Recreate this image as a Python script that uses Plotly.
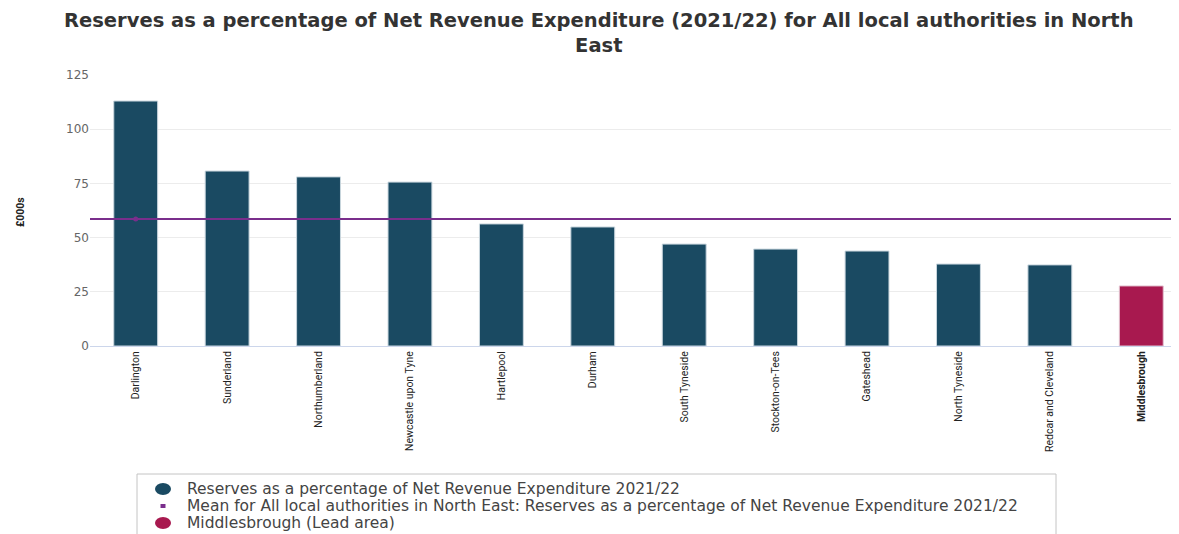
import plotly.graph_objects as go

categories = ["Darlington", "Sunderland", "Northumberland", "Newcastle upon Tyne", "Hartlepool",
              "Durham", "South Tyneside", "Stockton-on-Tees", "Gateshead", "North Tyneside",
              "Redcar and Cleveland", "Middlesbrough"]
values = [113.0, 80.7, 78.0, 75.6, 56.3, 54.9, 47.0, 44.7, 43.8, 37.8, 37.4, 27.7]
lead_area = "Middlesbrough"
mean_value = 58.6
y_ticks = [0, 25, 50, 75, 100, 125]

title_text = ("Reserves as a percentage of Net Revenue Expenditure (2021/22) for All local authorities in North"
              "<br>East")
y_title = "£000s"
series_name = "Reserves as a percentage of Net Revenue Expenditure 2021/22"
mean_name = "Mean for All local authorities in North East: Reserves as a percentage of Net Revenue Expenditure 2021/22"
lead_name = "Middlesbrough (Lead area)"

BLUE = "#1a4a62"
CRIMSON = "#a8194f"
PURPLE = "#7a2e8c"

W, H = 1179, 534
ML, MT, MB = 82, 67, 196
PW, PH = W - ML, H - MT - MB


def px_x(x):
    return (x - ML) / PW


def px_y(y):
    return 1 - (y - MT) / PH


other_x = [c for c in categories if c != lead_area]
other_y = [v for c, v in zip(categories, values) if c != lead_area]
lead_x = [c for c in categories if c == lead_area]
lead_y = [v for c, v in zip(categories, values) if c == lead_area]

fig = go.Figure()
fig.add_trace(go.Bar(x=other_x, y=other_y, name=series_name,
                     marker=dict(color=BLUE, line=dict(color="#c9d6de", width=1)),
                     width=0.48, showlegend=False))
fig.add_trace(go.Bar(x=lead_x, y=lead_y, name=lead_name,
                     marker=dict(color=CRIMSON, line=dict(color="#e3c3d0", width=1)),
                     width=0.48, showlegend=False))

# mean line
fig.add_shape(type="line", xref="paper", x0=0, x1=1, yref="y", y0=mean_value, y1=mean_value,
              line=dict(color=PURPLE, width=2), layer="above")
fig.add_trace(go.Scatter(x=[categories[0]], y=[mean_value], mode="markers", name=mean_name,
                         marker=dict(size=5, color=PURPLE), showlegend=False, hoverinfo="skip"))

# legend (drawn as a box with markers and labels, like the original)
fig.add_shape(type="rect", xref="paper", yref="paper",
              x0=px_x(129), x1=px_x(1048), y0=px_y(560), y1=px_y(466),
              line=dict(color="#c4c4c4", width=1), fillcolor="white", layer="above")
legend_items = [(series_name, BLUE, "circle"), (mean_name, PURPLE, "square"), (lead_name, CRIMSON, "circle")]
for i, (name, color, sym) in enumerate(legend_items):
    yc = 481 + 17 * i
    if sym == "circle":
        fig.add_shape(type="circle", xref="paper", yref="paper",
                      x0=px_x(155 - 8), x1=px_x(155 + 8), y0=px_y(yc + 6), y1=px_y(yc - 6),
                      fillcolor=color, line=dict(width=0), layer="above")
    else:
        fig.add_shape(type="rect", xref="paper", yref="paper",
                      x0=px_x(155 - 2.5), x1=px_x(155 + 2.5), y0=px_y(yc + 2), y1=px_y(yc - 2),
                      fillcolor=color, line=dict(width=0), layer="above")
    fig.add_annotation(text=name, xref="paper", yref="paper", x=px_x(177), y=px_y(yc),
                       xanchor="left", yanchor="middle", showarrow=False,
                       font=dict(family="DejaVu Sans", size=15.5, color="#444444"))

# title
fig.add_annotation(text="<b>%s</b>" % title_text, xref="paper", yref="paper",
                   x=px_x(W / 2 + 1), y=px_y(24.5), xanchor="center", yanchor="middle", showarrow=False,
                   font=dict(family="DejaVu Sans", size=19.5, color="#333333"))

# y axis title
fig.add_annotation(text="<b>%s</b>" % y_title, xref="paper", yref="paper",
                   x=px_x(12), y=px_y(204), xanchor="center", yanchor="middle", showarrow=False,
                   textangle=-90, font=dict(family="Roboto", size=10.5, color="#222222"))

ticktext = ["<b>%s</b>" % c if c == lead_area else c for c in categories]

fig.update_layout(
    width=W, height=H,
    margin=dict(l=ML, r=0, t=MT, b=MB, autoexpand=False),
    paper_bgcolor="white", plot_bgcolor="white",
    showlegend=False,
    xaxis=dict(type="category", range=[-0.5, 11.5], tickmode="array", tickvals=categories, ticktext=ticktext,
               tickangle=-90, tickfont=dict(family="Roboto", size=10.5, color="#222222"),
               showgrid=False, showline=True, linecolor="#ccd6eb", linewidth=1, ticks="", automargin=False),
    yaxis=dict(range=[0, 125], tickvals=y_ticks, showgrid=True, gridcolor="#ececec", gridwidth=1,
               zeroline=False, tickfont=dict(family="DejaVu Sans", size=12, color="#666666"),
               ticks="", ticklen=0, automargin=False),
    bargap=0.5,
)

fig.write_html("out.html")
